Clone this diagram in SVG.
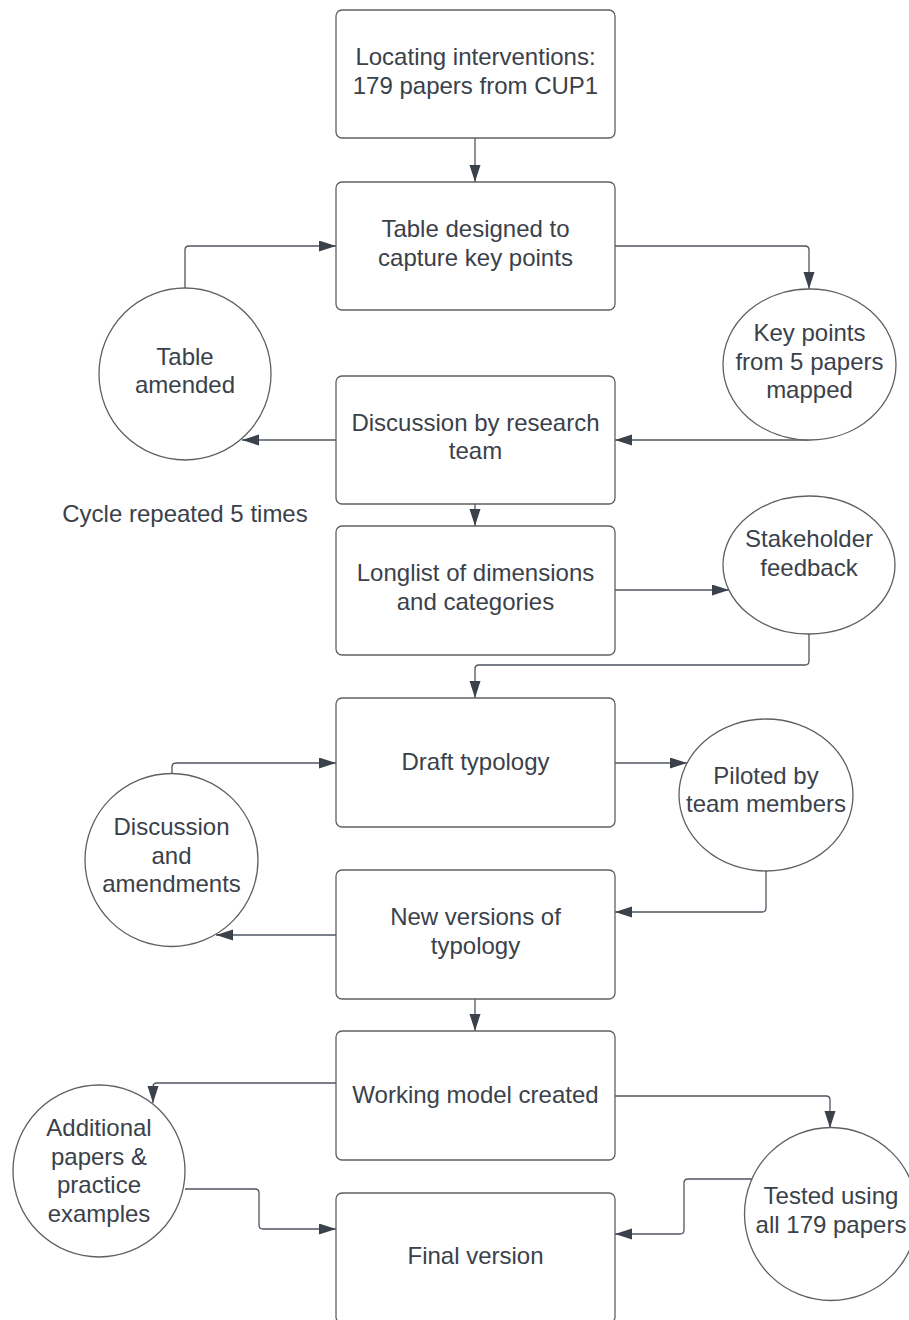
<svg xmlns="http://www.w3.org/2000/svg" width="909" height="1320" viewBox="0 0 909 1320">
<style>
.box{fill:#fff;stroke:#606060;stroke-width:1.3}
.circ{fill:#fff;stroke:#606060;stroke-width:1.3}
.t{font-family:"Liberation Sans",Arial,sans-serif;font-size:24px;fill:#3a414a;text-anchor:middle}
.c{fill:none;stroke:#4f5660;stroke-width:1.3;marker-end:url(#ah)}
</style>
<defs>
<marker id="ah" markerUnits="userSpaceOnUse" markerWidth="18" markerHeight="12" refX="17" refY="5.5" orient="auto">
<path d="M0,0 L17,5.5 L0,11 z" fill="#3a414a"/>
</marker>
</defs>
<rect width="909" height="1320" fill="#fff"/>
<g id="connectors">
<path class="c" d="M475,138 V182"/>
<path class="c" d="M185,289 V250 Q185,246 189,246 H336"/>
<path class="c" d="M615,246 H805 Q809,246 809,250 V289"/>
<path class="c" d="M809,440 H615"/>
<path class="c" d="M336,440 H242"/>
<path class="c" d="M475,504 V526"/>
<path class="c" d="M615,590 H729"/>
<path class="c" d="M809,633 V661 Q809,665 805,665 H479 Q475,665 475,669 V698"/>
<path class="c" d="M615,763 H687"/>
<path class="c" d="M766,871 V908 Q766,912 762,912 H615"/>
<path class="c" d="M172,773 V767 Q172,763 176,763 H336"/>
<path class="c" d="M336,935 H216"/>
<path class="c" d="M475,999 V1031"/>
<path class="c" d="M336,1083 H157 Q153,1083 153,1087 V1103"/>
<path class="c" d="M185,1189 H255 Q259,1189 259,1193 V1225 Q259,1229 263,1229 H336"/>
<path class="c" d="M615,1096 H826 Q830,1096 830,1100 V1128"/>
<path class="c" d="M752,1179 H688 Q684,1179 684,1183 V1230 Q684,1234 680,1234 H615"/>
</g>
<g id="n1"><rect class="box" x="336" y="10" width="279" height="128" rx="6"/><text class="t" x="475.5" y="65">Locating interventions:</text><text class="t" x="475.5" y="94">179 papers from CUP1</text></g>
<g id="n2"><rect class="box" x="336" y="182" width="279" height="128" rx="6"/><text class="t" x="475.5" y="237">Table designed to</text><text class="t" x="475.5" y="266">capture key points</text></g>
<g id="n3"><rect class="box" x="336" y="376" width="279" height="128" rx="6"/><text class="t" x="475.5" y="431">Discussion by research</text><text class="t" x="475.5" y="459">team</text></g>
<g id="n4"><rect class="box" x="336" y="526" width="279" height="129" rx="6"/><text class="t" x="475.5" y="581">Longlist of dimensions</text><text class="t" x="475.5" y="610">and categories</text></g>
<g id="n5"><rect class="box" x="336" y="698" width="279" height="129" rx="6"/><text class="t" x="475.5" y="770">Draft typology</text></g>
<g id="n6"><rect class="box" x="336" y="870" width="279" height="129" rx="6"/><text class="t" x="475.5" y="925">New versions of</text><text class="t" x="475.5" y="954">typology</text></g>
<g id="n7"><rect class="box" x="336" y="1031" width="279" height="129" rx="6"/><text class="t" x="475.5" y="1103">Working model created</text></g>
<g id="n8"><rect class="box" x="336" y="1193" width="279" height="130" rx="6"/><text class="t" x="475.5" y="1264">Final version</text></g>
<g id="c1"><circle class="circ" cx="185" cy="374" r="86"/><text class="t" x="185" y="365">Table</text><text class="t" x="185" y="393">amended</text></g>
<g id="c2"><ellipse class="circ" cx="809.5" cy="364.5" rx="86.5" ry="75.5"/><text class="t" x="809.5" y="341">Key points</text><text class="t" x="809.5" y="370">from 5 papers</text><text class="t" x="809.5" y="398">mapped</text></g>
<g id="label"><text class="t" x="185" y="522">Cycle repeated 5 times</text></g>
<g id="c3"><ellipse class="circ" cx="809" cy="565" rx="86" ry="69"/><text class="t" x="809" y="547">Stakeholder</text><text class="t" x="809" y="576">feedback</text></g>
<g id="c4"><ellipse class="circ" cx="766" cy="795" rx="87" ry="76"/><text class="t" x="766" y="784">Piloted by</text><text class="t" x="766" y="812">team members</text></g>
<g id="c5"><circle class="circ" cx="171.5" cy="860" r="86.5"/><text class="t" x="171.5" y="835">Discussion</text><text class="t" x="171.5" y="864">and</text><text class="t" x="171.5" y="892">amendments</text></g>
<g id="c6"><circle class="circ" cx="99" cy="1171" r="86"/><text class="t" x="99" y="1136">Additional</text><text class="t" x="99" y="1165">papers &amp;</text><text class="t" x="99" y="1193">practice</text><text class="t" x="99" y="1222">examples</text></g>
<g id="c7"><circle class="circ" cx="831" cy="1214" r="86.5"/><text class="t" x="831" y="1204">Tested using</text><text class="t" x="831" y="1233">all 179 papers</text></g>
</svg>
